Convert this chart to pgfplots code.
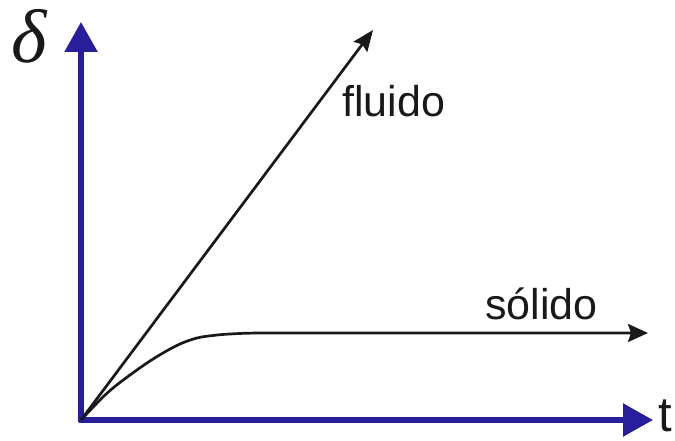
\documentclass[border=0pt]{standalone}
\usepackage{fontspec}
\setmainfont{Liberation Sans}
\newfontfamily\seriffont{Liberation Serif}
\usepackage{pgfplots}
\pgfplotsset{compat=1.18}
\usetikzlibrary{arrows.meta}
\definecolor{axblue}{RGB}{40,30,155}
\begin{document}
\begin{tikzpicture}
\begin{axis}[
  hide axis, scale only axis,
  width=675bp, height=441bp,
  xmin=-81, xmax=594, ymin=-21, ymax=420,
  clip=false,
]
% blue axes
\addplot[axblue, line width=5.5bp, -{Triangle[length=30bp,width=32bp]}] coordinates {(0,-2.5) (0,398)};
\addplot[axblue, line width=5.5bp, -{Triangle[length=30bp,width=32bp]}] coordinates {(-2.5,0) (572,0)};
% fluido
\addplot[black!90, line width=2.7bp, -{Stealth[length=21bp,width=17bp,inset=3bp]}] coordinates {(0,0) (292,390)};
% solido
\addplot[black!90, line width=2.7bp, smooth, tension=0.6, -{Stealth[length=20bp,width=18bp,inset=3bp]}] coordinates {(0,0) (19,20) (32,32) (49,45) (66,57) (82,67) (99,76) (116,82) (132,84.5) (149,86) (179,87) (250,87) (567,87)};
% labels
\node[anchor=base west, inner sep=0pt, text=black!90] at (axis cs:261,303) {\fontsize{43bp}{50bp}\selectfont fluido};
\node[anchor=base west, inner sep=0pt, text=black!90] at (axis cs:404,100) {\fontsize{43bp}{50bp}\selectfont sólido};
\node[anchor=base west, inner sep=0pt, text=black!90] at (axis cs:577,-11) {\fontsize{49bp}{56bp}\selectfont t};
\node[anchor=base west, inner sep=0pt, text=black!90] at (axis cs:-70,357) {\fontsize{76bp}{80bp}\selectfont\seriffont\itshape δ};
\end{axis}
\pgfresetboundingbox
\path[use as bounding box] (current axis.south west) rectangle (current axis.north east);
\end{tikzpicture}
\end{document}
